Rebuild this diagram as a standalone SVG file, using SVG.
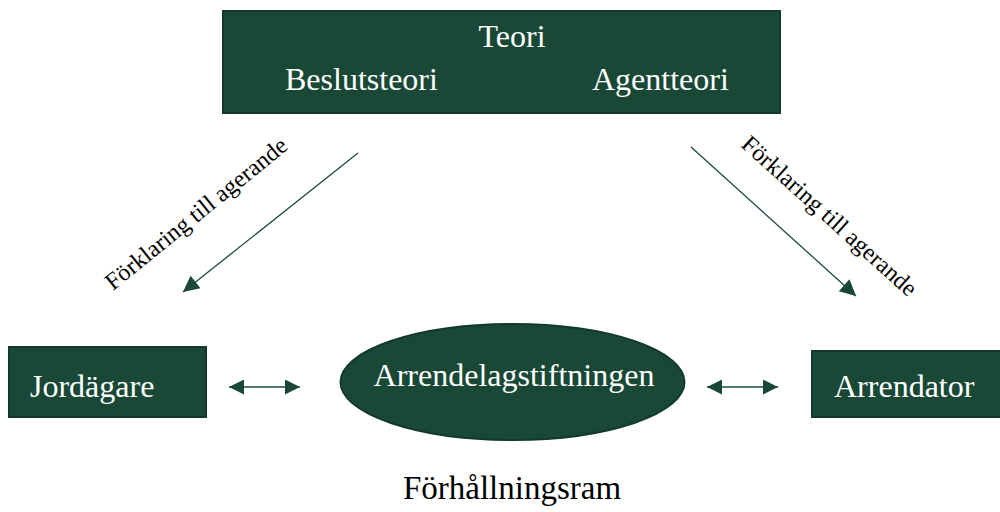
<svg xmlns="http://www.w3.org/2000/svg" width="1000" height="512" viewBox="0 0 1000 512">
<style>
.box{fill:#194836;stroke:#113a2a;stroke-width:2}
.wt{font-family:"Liberation Serif","Times New Roman",serif;font-size:32px;fill:#ffffff}
.bt{font-family:"Liberation Serif","Times New Roman",serif;fill:#000000}
.ln{stroke:#1b4e3b;stroke-width:1.3;fill:none}
</style>
<defs>
<marker id="ah" viewBox="0 0 10 10" refX="10" refY="5" markerWidth="20" markerHeight="16" markerUnits="userSpaceOnUse" orient="auto">
<path d="M0,0 L10,5 L0,10 z" fill="#194836"/>
</marker>
<marker id="ah2" viewBox="0 0 10 10" refX="10" refY="5" markerWidth="17" markerHeight="15" markerUnits="userSpaceOnUse" orient="auto-start-reverse">
<path d="M0,0 L10,5 L0,10 z" fill="#194836"/>
</marker>
</defs>
<g id="teori">
<rect class="box" x="223" y="11" width="557" height="102"/>
<text class="wt" x="512" y="47" text-anchor="middle">Teori</text>
<text class="wt" x="285" y="90">Beslutsteori</text>
<text class="wt" x="592" y="90">Agentteori</text>
</g>
<g id="jordagare">
<rect class="box" x="9" y="347" width="197" height="70"/>
<text class="wt" x="30" y="397">Jordägare</text>
</g>
<g id="arrendelag">
<ellipse class="box" cx="512.5" cy="382" rx="172" ry="58"/>
<text class="wt" x="514" y="386" text-anchor="middle">Arrendelagstiftningen</text>
</g>
<g id="arrendator">
<rect class="box" x="812" y="351" width="200" height="66"/>
<text class="wt" x="834" y="397">Arrendator</text>
</g>
<g id="ram">
<text class="bt" x="512" y="499" font-size="33" text-anchor="middle">Förhållningsram</text>
</g>
<g id="connectors">
<line class="ln" x1="358" y1="153" x2="183" y2="292" marker-end="url(#ah)"/>
<line class="ln" x1="691" y1="147" x2="856" y2="296" marker-end="url(#ah)"/>
<line class="ln" x1="229" y1="387" x2="300" y2="387" marker-start="url(#ah2)" marker-end="url(#ah2)"/>
<line class="ln" x1="707" y1="387" x2="778" y2="387" marker-start="url(#ah2)" marker-end="url(#ah2)"/>
<text class="bt" font-size="24" x="113" y="291" transform="rotate(-39 113 291)">Förklaring till agerande</text>
<text class="bt" font-size="24" x="740" y="146" transform="rotate(42 740 146)">Förklaring till agerande</text>
</g>
</svg>
